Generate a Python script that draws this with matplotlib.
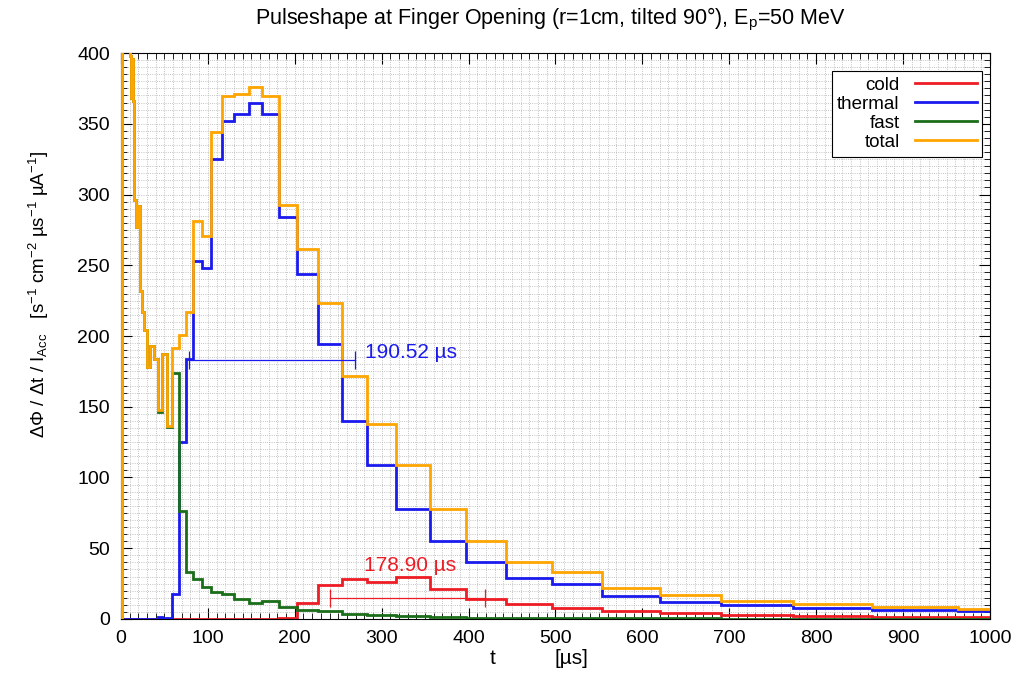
import matplotlib
matplotlib.use('Agg')
import matplotlib.pyplot as plt
from matplotlib.lines import Line2D
from matplotlib.ticker import MultipleLocator
import numpy as np

plt.rcParams['font.family'] = ['Liberation Sans', 'DejaVu Sans']
plt.rcParams['mathtext.fontset'] = 'custom'
plt.rcParams['mathtext.rm'] = 'Liberation Sans'
plt.rcParams['mathtext.it'] = 'Liberation Sans:italic'

# bin edges in us (log-like binning)
edges = [1.0, 2.3, 4.0, 5.6, 7.1, 8.8, 9.9, 11.0, 12.3, 13.8, 15.4, 17.2, 19.3,
         21.5, 24.1, 26.9, 30.1, 33.7, 37.6, 42.1, 47.0, 52.6, 58.8, 66.8, 74.9,
         82.9, 93.3, 103.7, 116.4, 130.2, 147.5, 162.4, 182.0, 202.8, 227.0,
         254.6, 283.4, 316.8, 356.0, 397.5, 443.5, 496.5, 554.0, 620.0, 691.0,
         773.0, 864.0, 963.0, 1076.0]

cold = [0] * 22 + [0, 0, 0, 0, 0, 0, 0, 0, 0, 0, 0.5, 11.3, 24, 28, 26, 29.5,
                   21, 14, 10.6, 7.7, 5.4, 4, 2.5, 2, 1.5, 1.2]
thermal = [0] * 19 + [1.5, 0.5, 0.5] + [17.6, 125, 184, 253, 248, 325, 352, 357,
                                         365, 357, 284, 244, 194, 140, 109, 77.5,
                                         55, 40, 29, 24.6, 16, 12.3, 9.9, 8, 6.6, 5.6]
fast = [600, 520, 470, 430, 415, 405, 398, 368, 396, 366, 296, 277, 292, 232,
        217, 204, 178, 193, 184, 146, 187, 136,
        174, 76, 33, 28, 22.5, 19, 17.6, 14, 11.3, 12.9, 8.2, 6, 5.5, 3.5, 2.5,
        2, 1.5, 1, 0.8, 0.6, 0.5, 0.4, 0.3, 0.3, 0.2, 0.2]
total = np.array(cold) + np.array(thermal) + np.array(fast)

# FWHM markers: (start, width, height)
fwhm_thermal = (78.5, 190.52, 183.0)
fwhm_cold = (240.5, 178.90, 15.0)

c_cold = '#ee1c24'
c_thermal = '#1a1aee'
c_fast = '#1a6e1a'
c_total = '#ffa500'

fig = plt.figure(figsize=(10.34, 6.86), dpi=100)
ax = fig.add_axes([0.117, 0.0977, 0.8404, 0.825])

lw = 2.0
ax.stairs(cold, edges, color=c_cold, lw=lw, baseline=0, zorder=2)
ax.stairs(thermal, edges, color=c_thermal, lw=lw, baseline=0, zorder=3)
ax.stairs(fast, edges, color=c_fast, lw=lw, baseline=0, zorder=4)
ax.stairs(total, edges, color=c_total, lw=lw, baseline=0, zorder=5)

# FWHM bars
for (x0, w, h), c in [(fwhm_thermal, c_thermal), (fwhm_cold, c_cold)]:
    ax.plot([x0, x0 + w], [h, h], color=c, lw=0.9, zorder=6)
    ax.vlines([x0, x0 + w], h - 6.5, h + 6.5, color=c, lw=0.9, zorder=6)

ax.text(fwhm_thermal[0] + fwhm_thermal[1] + 12, fwhm_thermal[2] + 5,
        '%.2f µs' % fwhm_thermal[1], color=c_thermal, fontsize=15,
        ha='left', va='center', zorder=7)
ax.text(fwhm_cold[0] + fwhm_cold[1] / 2 + 3, fwhm_cold[2] + 23,
        '%.2f µs' % fwhm_cold[1], color=c_cold, fontsize=15,
        ha='center', va='center', zorder=7)

ax.set_xlim(0, 1000)
ax.set_ylim(0, 400)
ax.xaxis.set_major_locator(MultipleLocator(100))
ax.xaxis.set_minor_locator(MultipleLocator(10))
ax.yaxis.set_major_locator(MultipleLocator(50))
ax.yaxis.set_minor_locator(MultipleLocator(5))
ax.tick_params(which='both', direction='in', top=True, right=True, labelsize=14)
ax.tick_params(which='major', length=8, width=0.8)
ax.tick_params(axis='x', which='major', pad=8)
ax.tick_params(axis='y', which='major', pad=8)
ax.tick_params(which='minor', length=4, width=0.6)
ax.grid(which='both', ls=':', color='#b0b0b0', lw=0.6)
ax.set_axisbelow(True)

handles = [Line2D([], [], color=c, lw=lw) for c in [c_cold, c_thermal, c_fast, c_total]]
leg = ax.legend(handles, ['cold', 'thermal', 'fast', 'total'], loc='upper right',
                bbox_to_anchor=(0.991, 0.968), borderaxespad=0, markerfirst=False,
                fontsize=13.5, handlelength=3.3, fancybox=False, framealpha=1,
                edgecolor='black', labelspacing=0.1, borderpad=0.3, handletextpad=0.8)
leg.get_frame().set_linewidth(0.8)

fig.text(0.532, 0.972, r'Pulseshape at Finger Opening (r=1cm, tilted 90°), E$_{\rm p}$=50 MeV',
         ha='center', va='center', fontsize=15.5)
fig.text(493 / 1034, 1 - 658 / 686, 't', ha='center', va='center', fontsize=15)
fig.text(571 / 1034, 1 - 658 / 686, '[µs]', ha='center', va='center', fontsize=15)
fig.text(0.038, 0.571,
         r'ΔΦ / Δt / I$_{\rm Acc}$   [s$^{-1}$ cm$^{-2}$ µs$^{-1}$ µA$^{-1}$]',
         ha='center', va='center', rotation=90, fontsize=13.5)

fig.savefig('out.png', dpi=100)
